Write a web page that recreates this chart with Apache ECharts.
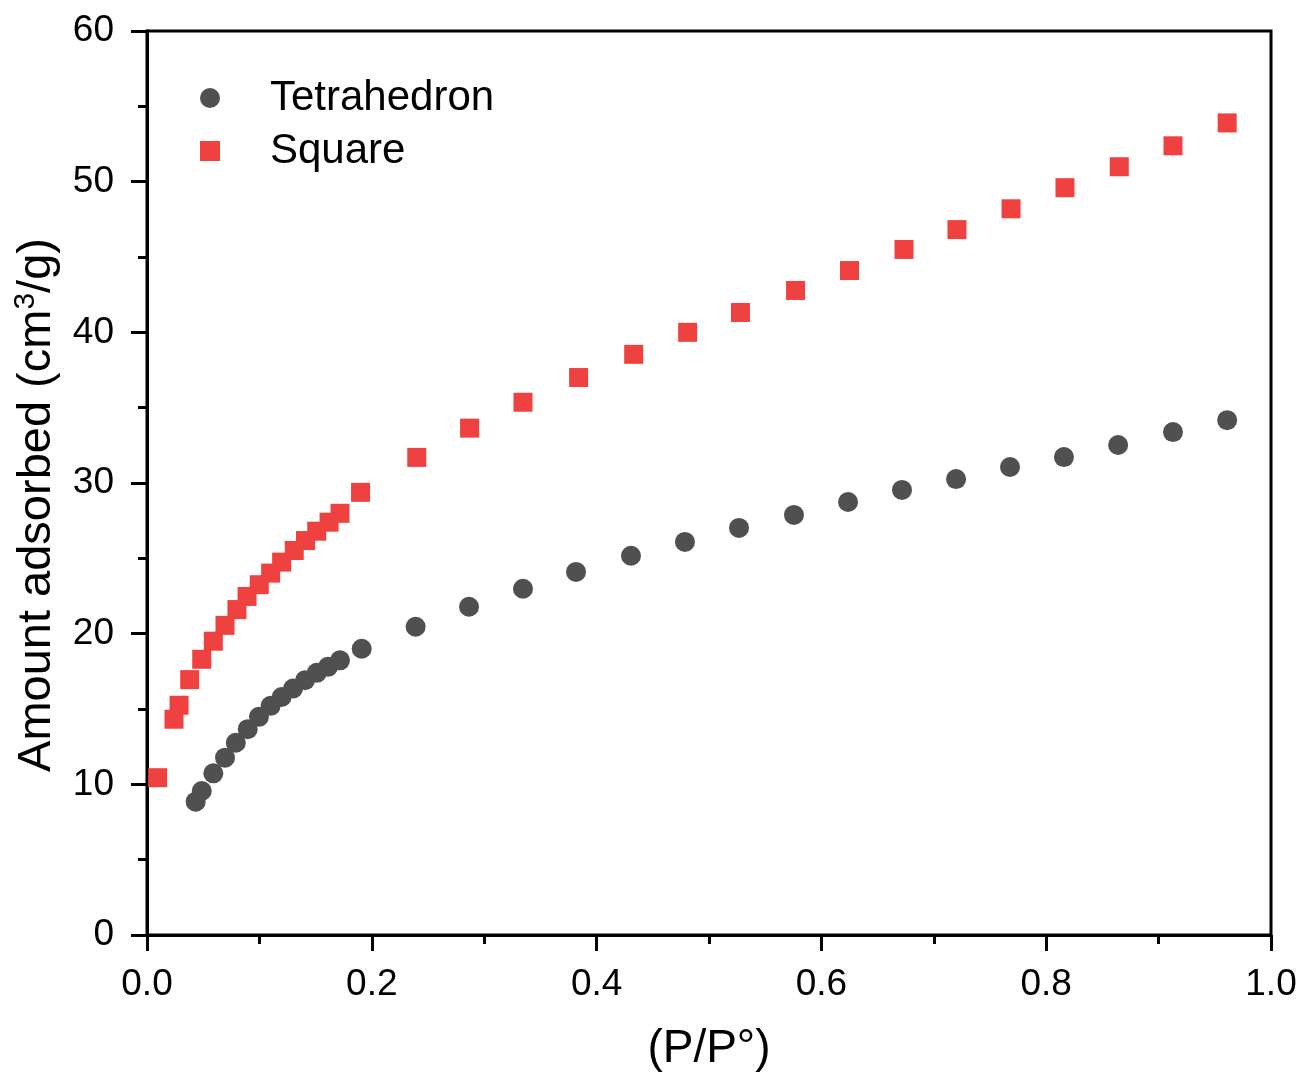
<!DOCTYPE html>
<html>
<head>
<meta charset="utf-8">
<script src="https://cdn.jsdelivr.net/npm/echarts@6/dist/echarts.min.js"></script>
<style>
  html, body { margin: 0; padding: 0; background: #fff; }
  #chart { width: 1303px; height: 1077px; }
</style>
</head>
<body>
<div id="chart"></div>
<script>
// N2 adsorption isotherms: relative pressure vs. amount adsorbed
const tetraP = [0.0433, 0.0487, 0.059, 0.0694, 0.079, 0.0896, 0.0996, 0.110, 0.1198, 0.130, 0.1406, 0.151, 0.161, 0.1717, 0.191,
  0.239, 0.2865, 0.3345, 0.3817, 0.4306, 0.4786, 0.5267, 0.5756, 0.6237, 0.6717, 0.7198, 0.7678, 0.8158, 0.864, 0.9128, 0.961];
const tetraV = [8.85, 9.56, 10.73, 11.77, 12.76, 13.66, 14.48, 15.21, 15.8, 16.36, 16.91, 17.4, 17.8, 18.23, 19.0,
  20.46, 21.79, 22.98, 24.1, 25.17, 26.09, 27.02, 27.88, 28.74, 29.54, 30.26, 31.06, 31.72, 32.52, 33.38, 34.17];

const squareP = [0.0095, 0.024, 0.0285, 0.038, 0.0487, 0.059, 0.0694, 0.080, 0.089, 0.0999, 0.110, 0.1198, 0.131, 0.141, 0.151, 0.162, 0.1717, 0.190,
  0.240, 0.287, 0.3345, 0.384, 0.433, 0.481, 0.528, 0.577, 0.625, 0.6735, 0.7206, 0.7687, 0.8167, 0.865, 0.9128, 0.961];
const squareV = [10.44, 14.32, 15.25, 16.95, 18.3, 19.5, 20.55, 21.6, 22.47, 23.25, 24.02, 24.75, 25.52, 26.18, 26.8, 27.4, 27.99, 29.38,
  31.7, 33.64, 35.36, 37.0, 38.54, 40.0, 41.32, 42.78, 44.1, 45.5, 46.82, 48.2, 49.6, 50.99, 52.38, 53.9];

const seriesNames = ['Tetrahedron', 'Square'];
const xTitle = '(P/P°)';
const yTitle = 'Amount adsorbed (cm{sup|3}/g)';

const zip = (xs, ys) => xs.map((x, i) => [x, ys[i]]);
const FONT = 'Liberation Sans, Arial, sans-serif';

const chart = echarts.init(document.getElementById('chart'), null, { renderer: 'canvas' });

const axisCommon = {
  axisLine: { show: true, onZero: false, lineStyle: { color: '#000', width: 3 } },
  axisTick: { show: true, inside: false, length: 16, lineStyle: { color: '#000', width: 3 } },
  minorTick: { show: true, splitNumber: 2, length: 9, lineStyle: { color: '#000', width: 3 } },
  splitLine: { show: false },
  axisLabel: { color: '#000', fontSize: 37, fontFamily: FONT }
};

chart.setOption({
  backgroundColor: '#fff',
  animation: false,
  grid: {
    left: 147, right: 32, top: 31, bottom: 140,
    show: true, borderColor: '#000', borderWidth: 3
  },
  legend: {
    orient: 'vertical',
    left: 195, top: 72,
    itemWidth: 20, itemHeight: 20,
    itemGap: 11,
    data: [
      { name: seriesNames[0], icon: 'circle' },
      { name: seriesNames[1], icon: 'rect' }
    ],
    textStyle: { color: '#000', fontSize: 42, fontFamily: FONT, padding: [0, 0, 0, 45], lineHeight: 40 }
  },
  xAxis: Object.assign({}, axisCommon, {
    type: 'value', min: 0, max: 1, interval: 0.2,
    name: xTitle, nameLocation: 'middle', nameGap: 91,
    nameTextStyle: { color: '#000', fontSize: 46, fontFamily: FONT },
    axisLabel: Object.assign({}, axisCommon.axisLabel, { margin: 31, formatter: v => v.toFixed(1) })
  }),
  yAxis: Object.assign({}, axisCommon, {
    type: 'value', min: 0, max: 60, interval: 10,
    name: yTitle, nameLocation: 'middle', nameGap: 84,
    nameTextStyle: {
      color: '#000', fontSize: 47, fontFamily: FONT,
      padding: [0, 44, 0, 0],
      rich: {
        sup: { fontSize: 30, fontFamily: FONT, color: '#000', verticalAlign: 'top', padding: [0, 0, 22, 0] }
      }
    },
    axisLabel: Object.assign({}, axisCommon.axisLabel, { margin: 33 })
  }),
  series: [
    {
      name: seriesNames[0], type: 'scatter', symbol: 'circle', symbolSize: 20,
      itemStyle: { color: '#505050', opacity: 1 },
      data: zip(tetraP, tetraV)
    },
    {
      name: seriesNames[1], type: 'scatter', symbol: 'rect', symbolSize: 19,
      itemStyle: { color: '#F04141', opacity: 1 },
      data: zip(squareP, squareV)
    }
  ]
});
</script>
</body>
</html>
